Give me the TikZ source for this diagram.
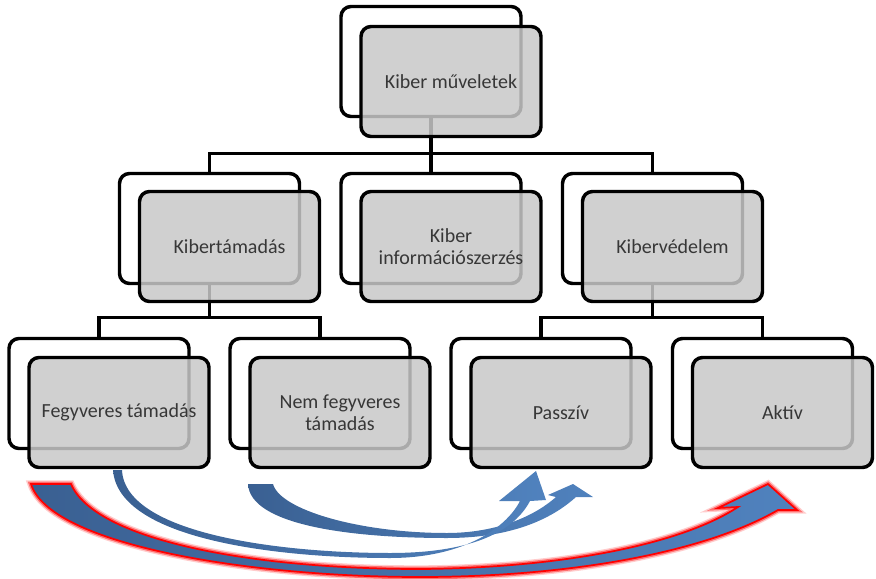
\documentclass[tikz,border=0pt]{standalone}
\usepackage{fontspec}
\setmainfont{Carlito}
\usetikzlibrary{positioning}

\definecolor{boxgray}{RGB}{200,200,200}
\definecolor{txtgray}{RGB}{55,55,55}
\definecolor{arrowdark}{RGB}{58,96,146}
\definecolor{arrowlight}{RGB}{80,130,190}

\tikzset{
  backbox/.style={draw, line width=2.6pt, rounded corners=7.5pt, fill=white,
    minimum width=135pt, minimum height=82.5pt, outer sep=0pt},
  frontbox/.style={backbox, fill=boxgray, fill opacity=0.85, text opacity=1,
    text=txtgray, font=\fontsize{15}{16.5}\selectfont, align=center},
  orgline/.style={line width=2.4pt},
  bandfill/.style={left color=arrowdark, right color=arrowlight},
  redglow/.style={preaction={draw=red, line width=5.5pt, draw opacity=0.2},
    preaction={draw=red, line width=3.4pt, draw opacity=0.45},
    draw=red, line width=1.3pt}
}

\begin{document}
\begin{tikzpicture}[x=0.75pt,y=0.75pt,yscale=-1,xscale=1]
	\useasboundingbox (0,0) rectangle (876,579);

	% back boxes
	\node[backbox] (kmb) at (431,61.5) {};
	\node[backbox] (ktb) at (209.5,228.5) {};
	\node[backbox] (kib) at (431,228.5) {};
	\node[backbox] (kvb) at (652.5,228.5) {};
	\node[backbox] (fgb) at (99,393.5) {};
	\node[backbox] (nfb) at (320,393.5) {};
	\node[backbox] (psb) at (541,393.5) {};
	\node[backbox] (akb) at (762.5,393.5) {};

	% connectors
	\draw[orgline] (kmb.south) -- ++(0,37) coordinate (j0);
	\draw[orgline] (j0) -| (ktb.north);
	\draw[orgline] (j0) -| (kvb.north);
	\draw[orgline] (j0) -- (kib.north);
	\draw[orgline] (ktb.south) -- ++(0,34) coordinate (j1);
	\draw[orgline] (j1) -| (fgb.north);
	\draw[orgline] (j1) -| (nfb.north);
	\draw[orgline] (kvb.south) -- ++(0,34) coordinate (j2);
	\draw[orgline] (j2) -| (psb.north);
	\draw[orgline] (j2) -| (akb.north);

	% front boxes
	\node[frontbox] (km) at ([xshift=15pt,yshift=15pt]kmb.center) {Kiber műveletek};
	\node[frontbox] (kt) at ([xshift=15pt,yshift=13.5pt]ktb.center) {Kibertámadás};
	\node[frontbox] (ki) at ([xshift=15pt,yshift=13.5pt]kib.center) {Kiber\\információszerzés};
	\node[frontbox] (kv) at ([xshift=15pt,yshift=13.5pt]kvb.center) {Kibervédelem};
	\node[frontbox] (fg) at ([xshift=15pt,yshift=14.25pt]fgb.center) {Fegyveres támadás};
	\node[frontbox] (nf) at ([xshift=15pt,yshift=14.25pt]nfb.center) {Nem fegyveres\\támadás};
	\node[frontbox] (ps) at ([xshift=15pt,yshift=14.25pt]psb.center) {Passzív};
	\node[frontbox] (ak) at ([xshift=15pt,yshift=14.25pt]akb.center) {Aktív};

	% big curved arrow
	\path[redglow, bandfill] (31,484) .. controls (50,545) and (250,577) .. (420,577)
	  .. controls (560,577) and (700,555) .. (778,510) -- (797,510) -- (768,484)
	  -- (718,508) -- (738,507) .. controls (680,545) and (560,568) .. (420,569)
	  .. controls (250,569) and (95,540) .. (71,484) -- cycle;

	% medium curved arrow
	\path[bandfill] (248,484) .. controls (250,525) and (350,538) .. (447,538)
	  .. controls (500,538) and (545,525) .. (576,497) -- (593,497) -- (573,484)
	  -- (548,495) -- (556,497) .. controls (530,520) and (490,533) .. (447,533)
	  .. controls (360,533) and (280,510) .. (273,484) -- cycle;

	% thin curved arrow
	\path[bandfill] (113,470) .. controls (118,540) and (280,558) .. (390,558)
	  .. controls (460,558) and (505,530) .. (520,501) -- (499,501) -- (536,471)
	  -- (546,500) -- (530,501) .. controls (512,535) and (465,553) .. (390,553)
	  .. controls (285,553) and (125,535) .. (122,470) -- cycle;

\end{tikzpicture}
\end{document}
